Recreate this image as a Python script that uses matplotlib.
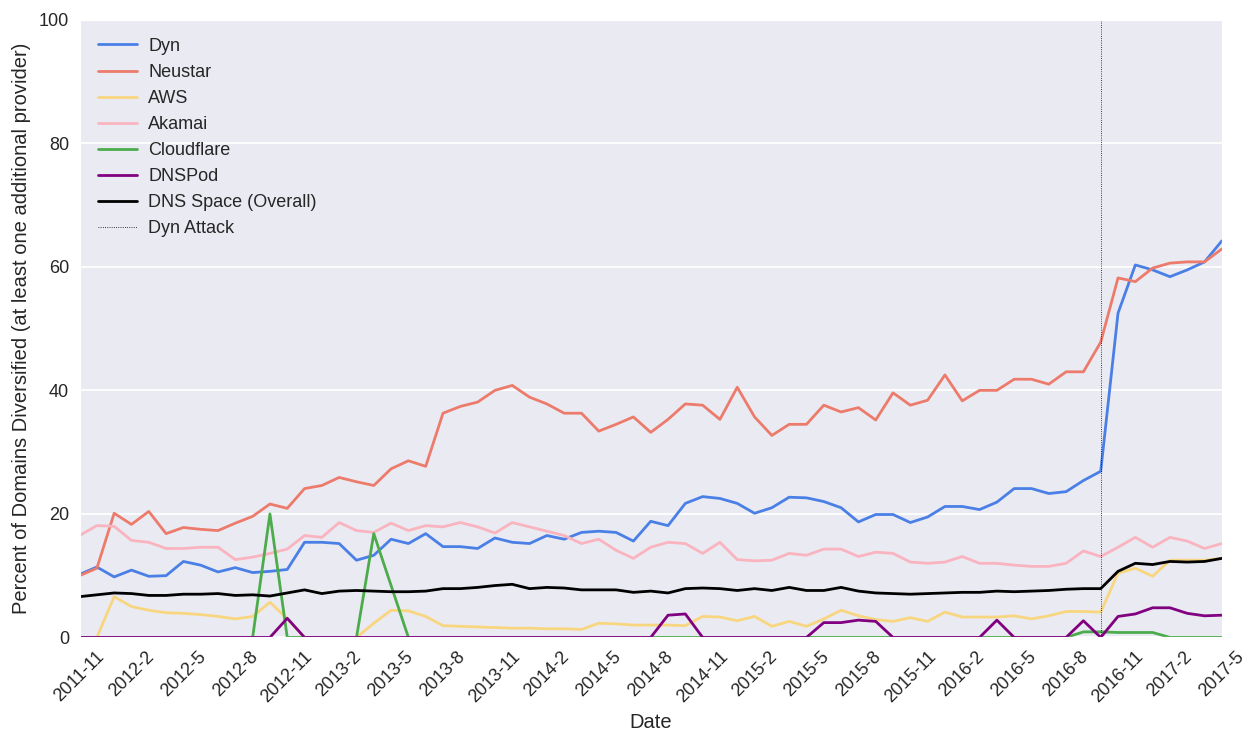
import matplotlib
matplotlib.use("Agg")
import matplotlib.pyplot as plt
import seaborn as sns

# monthly samples, 2011-11 .. 2017-5
start_year, start_month, n_months = 2011, 11, 67
months = []
for k in range(n_months):
    m = start_month - 1 + k
    months.append("%d-%d" % (start_year + m // 12, m % 12 + 1))

dyn = [10.2, 11.4, 9.8, 10.9, 9.9, 10.0, 12.3, 11.7, 10.6, 11.3, 10.5, 10.7, 11.0,
       15.4, 15.4, 15.2, 12.5, 13.3, 15.9, 15.2, 16.8, 14.7, 14.7, 14.4, 16.1,
       15.4, 15.2, 16.5, 15.9, 17.0, 17.2, 17.0, 15.6, 18.8, 18.1, 21.7, 22.8,
       22.5, 21.7, 20.1, 21.0, 22.7, 22.6, 22.0, 21.0, 18.7, 19.9, 19.9, 18.6,
       19.5, 21.2, 21.2, 20.7, 21.9, 24.1, 24.1, 23.3, 23.6, 25.4, 26.9,
       52.5, 60.3, 59.5, 58.4, 59.5, 60.8, 64.2]
neustar = [10.0, 11.2, 20.1, 18.3, 20.4, 16.8, 17.8, 17.5, 17.3, 18.5, 19.6, 21.6, 20.9,
           24.1, 24.6, 25.9, 25.2, 24.6, 27.3, 28.6, 27.7, 36.3, 37.4, 38.1, 40.0,
           40.8, 38.9, 37.8, 36.3, 36.3, 33.4, 34.5, 35.7, 33.2, 35.3, 37.8, 37.6,
           35.3, 40.5, 35.7, 32.7, 34.5, 34.5, 37.6, 36.5, 37.2, 35.2, 39.6, 37.6,
           38.4, 42.5, 38.3, 40.0, 40.0, 41.8, 41.8, 41.0, 43.0, 43.0, 47.8,
           58.2, 57.6, 59.8, 60.6, 60.8, 60.8, 62.9]
aws = [0, 0, 6.6, 5.0, 4.4, 4.0, 3.9, 3.7, 3.4, 3.0, 3.4, 5.7, 3.0,
       0, 0, 0, 0, 2.3, 4.4, 4.3, 3.4, 1.9, 1.8, 1.7, 1.6,
       1.5, 1.5, 1.4, 1.4, 1.3, 2.3, 2.2, 2.0, 2.0, 2.0, 1.9, 3.4,
       3.3, 2.7, 3.4, 1.8, 2.6, 1.8, 3.0, 4.4, 3.5, 2.9, 2.6, 3.2,
       2.6, 4.1, 3.3, 3.3, 3.3, 3.5, 3.0, 3.5, 4.2, 4.2, 4.1,
       10.4, 11.2, 9.9, 12.5, 12.5, 12.5, 12.8]
akamai = [16.5, 18.1, 18.0, 15.7, 15.4, 14.4, 14.4, 14.6, 14.6, 12.6, 13.0, 13.6, 14.3,
          16.5, 16.2, 18.6, 17.3, 17.0, 18.5, 17.3, 18.1, 17.9, 18.6, 17.9, 16.9,
          18.6, 17.9, 17.2, 16.5, 15.2, 15.9, 14.1, 12.8, 14.6, 15.4, 15.2, 13.6,
          15.4, 12.6, 12.4, 12.5, 13.6, 13.3, 14.3, 14.3, 13.1, 13.8, 13.6, 12.2,
          12.0, 12.2, 13.1, 12.0, 12.0, 11.7, 11.5, 11.5, 12.0, 14.0, 13.1,
          14.6, 16.2, 14.6, 16.2, 15.6, 14.4, 15.2]
cloudflare = [0, 0, 0, 0, 0, 0, 0, 0, 0, 0, 0, 20.0, 0,
              0, 0, 0, 0, 16.8, 8.4, 0, 0, 0, 0, 0, 0,
              0, 0, 0, 0, 0, 0, 0, 0, 0, 0, 0, 0,
              0, 0, 0, 0, 0, 0, 0, 0, 0, 0, 0, 0,
              0, 0, 0, 0, 0, 0, 0, 0, 0, 0.9, 0.9,
              0.8, 0.8, 0.8, 0, 0, 0, 0]
dnspod = [0, 0, 0, 0, 0, 0, 0, 0, 0, 0, 0, 0, 3.1,
          0, 0, 0, 0, 0, 0, 0, 0, 0, 0, 0, 0,
          0, 0, 0, 0, 0, 0, 0, 0, 0, 3.6, 3.8, 0,
          0, 0, 0, 0, 0, 0, 2.4, 2.4, 2.8, 2.6, 0, 0,
          0, 0, 0, 0, 2.8, 0, 0, 0, 0, 2.7, 0,
          3.4, 3.8, 4.8, 4.8, 3.9, 3.5, 3.6]
overall = [6.6, 6.9, 7.2, 7.1, 6.8, 6.8, 7.0, 7.0, 7.1, 6.8, 6.9, 6.7, 7.2,
           7.7, 7.1, 7.5, 7.6, 7.5, 7.4, 7.4, 7.5, 7.9, 7.9, 8.1, 8.4,
           8.6, 7.9, 8.1, 8.0, 7.7, 7.7, 7.7, 7.3, 7.5, 7.2, 7.9, 8.0,
           7.9, 7.6, 7.9, 7.6, 8.1, 7.6, 7.6, 8.1, 7.5, 7.2, 7.1, 7.0,
           7.1, 7.2, 7.3, 7.3, 7.5, 7.4, 7.5, 7.6, 7.8, 7.9, 7.9,
           10.7, 12.0, 11.8, 12.3, 12.2, 12.3, 12.8]
attack_month = "2016-10"

series = [("Dyn", dyn, "#4a7fe6"),
          ("Neustar", neustar, "#ec7b6c"),
          ("AWS", aws, "#f8d680"),
          ("Akamai", akamai, "#f9b4bf"),
          ("Cloudflare", cloudflare, "#4cac4c"),
          ("DNSPod", dnspod, "#800080"),
          ("DNS Space (Overall)", overall, "black")]

sns.set_style("darkgrid")
plt.rcParams['font.family'] = ['Liberation Sans', 'DejaVu Sans']

fig, ax = plt.subplots(figsize=(12.43, 7.31), dpi=100)
fig.subplots_adjust(left=0.064, right=0.983, top=0.973, bottom=0.128)

x = list(range(n_months))
for name, vals, col in series:
    ax.plot(x, vals, color=col, lw=2, label=name)

ax.axvline(months.index(attack_month), color="black", ls=":", lw=0.6, label="Dyn Attack")

ax.set_xlim(0, n_months - 1)
ax.set_ylim(0, 100)
ax.set_xticks(x[::3])
ax.set_xticklabels(months[::3], rotation=45, fontsize=13)
ax.tick_params(axis="y", labelsize=13)
ax.tick_params(axis="both", pad=4)
ax.grid(axis="x", visible=False)
ax.grid(axis="y", color="white", lw=1.3)
ax.set_xlabel("Date", fontsize=14.5, labelpad=5)
ax.set_ylabel("Percent of Domains Diversified (at least one additional provider)", fontsize=14.5, labelpad=6)
ax.legend(loc="upper left", frameon=False, fontsize=13, handlelength=2.2,
          handletextpad=0.6, borderaxespad=0.6)

fig.savefig("out.png", dpi=100)
